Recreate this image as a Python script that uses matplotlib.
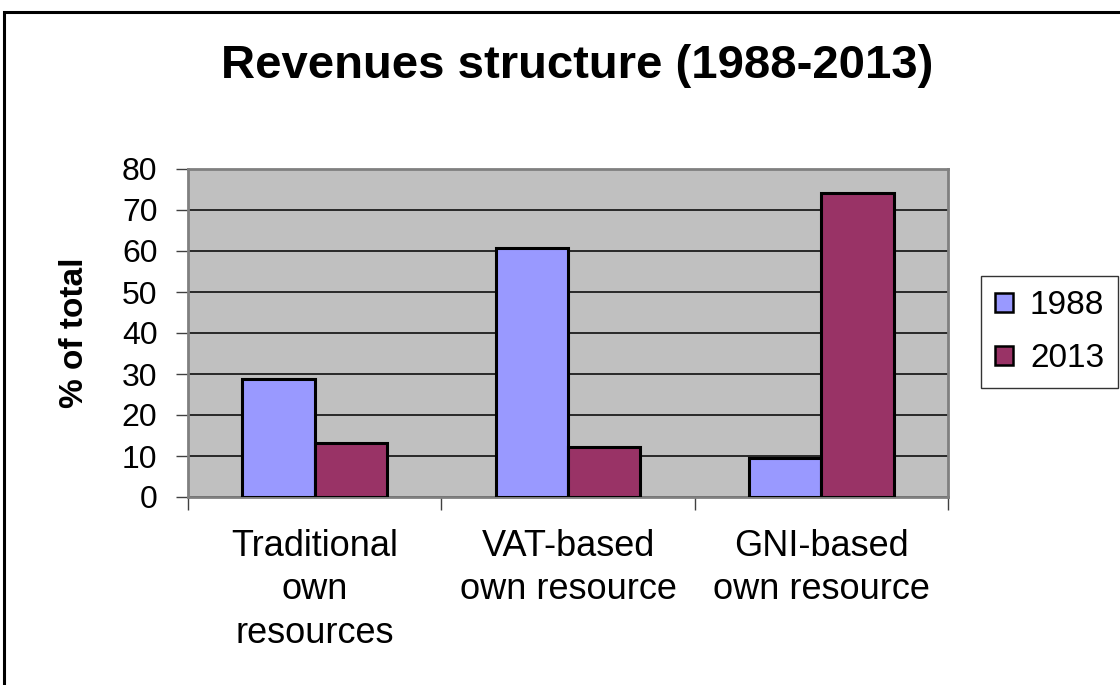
import numpy as np
import matplotlib.pyplot as plt
from matplotlib.patches import Rectangle

plt.rcParams['font.family'] = ['Liberation Sans', 'DejaVu Sans']

categories = ['Traditional\nown\nresources', 'VAT-based\nown resource', 'GNI-based\nown resource']
years = ['1988', '2013']
v1988 = [28.8, 60.7, 9.4]
v2013 = [13.2, 12.1, 74.2]
colors = ['#9999FF', '#993366']

fig = plt.figure(figsize=(11.2, 6.85), dpi=100)
ax = fig.add_axes([188/1120, 1-497/685, 760/1120, 328/685])
ax.set_facecolor('#C0C0C0')

x = np.arange(len(categories))
w = 1/3.5
ax.bar(x - w/2, v1988, w, color=colors[0], edgecolor='black', linewidth=2.2, label=years[0], zorder=3)
ax.bar(x + w/2, v2013, w, color=colors[1], edgecolor='black', linewidth=2.2, label=years[1], zorder=3)

ax.set_xlim(-0.5, 2.5)
ax.set_ylim(0, 80)
ax.set_yticks(np.arange(0, 81, 10))
ax.yaxis.grid(True, color='black', linewidth=1.1, zorder=1)
ax.set_axisbelow(True)
ax.tick_params(axis='y', labelsize=23, length=9, width=1, color='#404040', pad=13)

# category boundary ticks
ax.set_xticks([-0.5, 0.5, 1.5, 2.5])
ax.set_xticklabels([])
ax.tick_params(axis='x', length=9, width=1, color='#404040')
ax.set_xticks(x, minor=True)
ax.set_xticklabels(categories, minor=True, fontsize=26, linespacing=1.31)
ax.tick_params(axis='x', which='minor', length=0, pad=23)

for s in ax.spines.values():
    s.set_color('#808080')
    s.set_linewidth(2)

ax.set_ylabel('% of total', fontsize=24, fontweight='bold', labelpad=23)

fig.text(0.515, 0.904, 'Revenues structure (1988-2013)', fontsize=34, fontweight='bold',
         ha='center', va='center')

leg = fig.legend(loc='upper left', bbox_to_anchor=(981/1120, 1-276/685), fontsize=24,
                 frameon=True, fancybox=False, edgecolor='black', handlelength=0.55,
                 handleheight=0.5, handletextpad=0.5, borderpad=0.42, labelspacing=0.66,
                 borderaxespad=0)
leg.get_frame().set_linewidth(1)
for h in leg.legend_handles:
    h.set_linewidth(1.8)

fig.patches.append(Rectangle((4/1120, -0.1), 1.2, 1-12/685+0.1, transform=fig.transFigure,
                             fill=False, edgecolor='black', linewidth=2.2))

fig.savefig('out.png', dpi=100)
